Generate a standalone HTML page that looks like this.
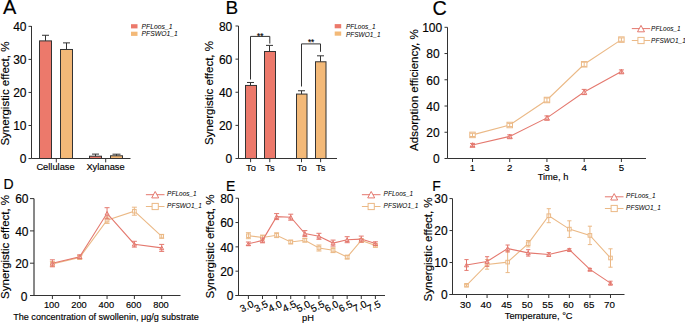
<!DOCTYPE html>
<html><head><meta charset="utf-8"><style>
html,body{margin:0;padding:0;background:#fff;}
svg{display:block;}
text{font-family:"Liberation Sans", sans-serif;fill:#000;stroke:#000;stroke-width:0.15px;}
</style></head><body>
<svg width="685" height="323" viewBox="0 0 685 323">
<rect width="685" height="323" fill="#fff"/>
<text x="3" y="14" font-size="20" text-anchor="start"  style="">A</text>
<line x1="31.5" y1="26" x2="31.5" y2="158.5" stroke="#333" stroke-width="1"/>
<line x1="28.5" y1="158.55" x2="31.5" y2="158.55" stroke="#333" stroke-width="1"/>
<text x="26.5" y="163.37" font-size="12" text-anchor="end"  style="">0</text>
<line x1="28.5" y1="125.5" x2="31.5" y2="125.5" stroke="#333" stroke-width="1"/>
<text x="26.5" y="130.32" font-size="12" text-anchor="end"  style="">10</text>
<line x1="28.5" y1="92.45" x2="31.5" y2="92.45" stroke="#333" stroke-width="1"/>
<text x="26.5" y="97.27" font-size="12" text-anchor="end"  style="">20</text>
<line x1="28.5" y1="59.400000000000006" x2="31.5" y2="59.400000000000006" stroke="#333" stroke-width="1"/>
<text x="26.5" y="64.22" font-size="12" text-anchor="end"  style="">30</text>
<line x1="28.5" y1="26.349999999999994" x2="31.5" y2="26.349999999999994" stroke="#333" stroke-width="1"/>
<text x="26.5" y="31.17" font-size="12" text-anchor="end"  style="">40</text>
<line x1="31.5" y1="158.5" x2="130.5" y2="158.5" stroke="#333" stroke-width="1"/>
<line x1="56.3" y1="158.5" x2="56.3" y2="162.4" stroke="#333" stroke-width="1"/>
<line x1="105.7" y1="158.5" x2="105.7" y2="162.4" stroke="#333" stroke-width="1"/>
<text x="55.5" y="169.8" font-size="9.3" text-anchor="middle"  style="">Cellulase</text>
<text x="105.5" y="169.8" font-size="9.3" text-anchor="middle"  style="">Xylanase</text>
<rect x="39.5" y="40.891999999999996" width="12.0" height="117.608" fill="#EC796B" stroke="#333" stroke-width="1"/>
<line x1="45.5" y1="40.891999999999996" x2="45.5" y2="35.27350000000001" stroke="#333" stroke-width="1"/>
<line x1="42.0" y1="35.27350000000001" x2="49.0" y2="35.27350000000001" stroke="#333" stroke-width="1"/>
<rect x="60.5" y="49.485" width="12.0" height="109.015" fill="#F3B978" stroke="#333" stroke-width="1"/>
<line x1="66.5" y1="49.485" x2="66.5" y2="42.875" stroke="#333" stroke-width="1"/>
<line x1="63.0" y1="42.875" x2="70.0" y2="42.875" stroke="#333" stroke-width="1"/>
<rect x="89.5" y="156.2" width="12.0" height="2.3000000000000114" fill="#EC796B" stroke="#333" stroke-width="1"/>
<line x1="95.5" y1="156.2" x2="95.5" y2="154.1" stroke="#333" stroke-width="1"/>
<line x1="92.0" y1="154.1" x2="99.0" y2="154.1" stroke="#333" stroke-width="1"/>
<rect x="110.5" y="155.8" width="12.0" height="2.6999999999999886" fill="#F3B978" stroke="#333" stroke-width="1"/>
<line x1="116.5" y1="155.8" x2="116.5" y2="154.2" stroke="#333" stroke-width="1"/>
<line x1="112.5" y1="154.2" x2="120.5" y2="154.2" stroke="#333" stroke-width="1"/>
<rect x="131" y="24.2" width="6.5" height="4.2" fill="#EC796B"/>
<rect x="131" y="31.7" width="6.5" height="4.2" fill="#F3B978"/>
<text x="141.5" y="28.9" font-size="6.8" text-anchor="start"  style="font-style:italic;stroke-width:0">PFLoos_1</text>
<text x="141.5" y="36.4" font-size="6.8" text-anchor="start"  style="font-style:italic;stroke-width:0">PFSWO1_1</text>
<text x="0" y="0" font-size="11.5" text-anchor="middle" transform="translate(9.2,93.6) rotate(-90)">Synergistic effect, %</text>
<text x="225.6" y="13.9" font-size="19" text-anchor="start"  style="">B</text>
<line x1="238.5" y1="26" x2="238.5" y2="158.5" stroke="#333" stroke-width="1"/>
<line x1="235.5" y1="158.5" x2="238.5" y2="158.5" stroke="#333" stroke-width="1"/>
<text x="232.3" y="163.32" font-size="12" text-anchor="end"  style="">0</text>
<line x1="235.5" y1="125.375" x2="238.5" y2="125.375" stroke="#333" stroke-width="1"/>
<text x="232.3" y="130.19" font-size="12" text-anchor="end"  style="">20</text>
<line x1="235.5" y1="92.25" x2="238.5" y2="92.25" stroke="#333" stroke-width="1"/>
<text x="232.3" y="97.07" font-size="12" text-anchor="end"  style="">40</text>
<line x1="235.5" y1="59.125" x2="238.5" y2="59.125" stroke="#333" stroke-width="1"/>
<text x="232.3" y="63.95" font-size="12" text-anchor="end"  style="">60</text>
<line x1="235.5" y1="26.0" x2="238.5" y2="26.0" stroke="#333" stroke-width="1"/>
<text x="232.3" y="30.82" font-size="12" text-anchor="end"  style="">80</text>
<line x1="238.5" y1="158.5" x2="337" y2="158.5" stroke="#333" stroke-width="1"/>
<line x1="250.6" y1="158.5" x2="250.6" y2="162.2" stroke="#333" stroke-width="1"/>
<line x1="269.8" y1="158.5" x2="269.8" y2="162.2" stroke="#333" stroke-width="1"/>
<line x1="301.5" y1="158.5" x2="301.5" y2="162.2" stroke="#333" stroke-width="1"/>
<line x1="320.6" y1="158.5" x2="320.6" y2="162.2" stroke="#333" stroke-width="1"/>
<text x="251" y="170.8" font-size="9.3" text-anchor="middle"  style="">To</text>
<text x="270" y="170.8" font-size="9.3" text-anchor="middle"  style="">Ts</text>
<text x="301.75" y="170.8" font-size="9.3" text-anchor="middle"  style="">To</text>
<text x="320.75" y="170.8" font-size="9.3" text-anchor="middle"  style="">Ts</text>
<rect x="245.5" y="85.459375" width="11.0" height="73.040625" fill="#EC796B" stroke="#333" stroke-width="1"/>
<line x1="250.5" y1="85.459375" x2="250.5" y2="82.478125" stroke="#333" stroke-width="1"/>
<line x1="247.0" y1="82.478125" x2="254.0" y2="82.478125" stroke="#333" stroke-width="1"/>
<rect x="264.5" y="51.50625000000001" width="11.0" height="106.99374999999999" fill="#EC796B" stroke="#333" stroke-width="1"/>
<line x1="269.5" y1="51.50625000000001" x2="269.5" y2="45.37812500000001" stroke="#333" stroke-width="1"/>
<line x1="266.0" y1="45.37812500000001" x2="273.0" y2="45.37812500000001" stroke="#333" stroke-width="1"/>
<rect x="296.5" y="94.071875" width="10.5" height="64.428125" fill="#F3B978" stroke="#333" stroke-width="1"/>
<line x1="301.5" y1="94.071875" x2="301.5" y2="90.759375" stroke="#333" stroke-width="1"/>
<line x1="298.0" y1="90.759375" x2="305.0" y2="90.759375" stroke="#333" stroke-width="1"/>
<rect x="315.5" y="61.775000000000006" width="10.5" height="96.725" fill="#F3B978" stroke="#333" stroke-width="1"/>
<line x1="320.5" y1="61.775000000000006" x2="320.5" y2="55.8125" stroke="#333" stroke-width="1"/>
<line x1="317.0" y1="55.8125" x2="324.0" y2="55.8125" stroke="#333" stroke-width="1"/>
<path d="M250.5,79.5 V36.4 H269.8 V43.6" fill="none" stroke="#333" stroke-width="1"/>
<path d="M301.5,86.5 V43.9 H320.5 V51.8" fill="none" stroke="#333" stroke-width="1"/>
<text x="260.3" y="38.6" font-size="8.2" text-anchor="middle"  style="">**</text>
<text x="311.1" y="45.4" font-size="8.2" text-anchor="middle"  style="">**</text>
<rect x="334.7" y="24.1" width="6.5" height="4.2" fill="#EC796B"/>
<rect x="334.7" y="31.5" width="6.5" height="4.2" fill="#F3B978"/>
<text x="345.9" y="28.9" font-size="6.5" text-anchor="start"  style="font-style:italic;stroke-width:0">PFLoos_1</text>
<text x="345.9" y="36.5" font-size="6.5" text-anchor="start"  style="font-style:italic;stroke-width:0">PFSWO1_1</text>
<text x="0" y="0" font-size="11.5" text-anchor="middle" transform="translate(213.2,93) rotate(-90)">Synergistic effect, %</text>
<text x="432.4" y="15.1" font-size="19.8" text-anchor="start"  style="">C</text>
<line x1="447.5" y1="27.3" x2="447.5" y2="158.5" stroke="#333" stroke-width="1"/>
<line x1="444.5" y1="158.5" x2="447.5" y2="158.5" stroke="#333" stroke-width="1"/>
<text x="439.6" y="163.32" font-size="12" text-anchor="end"  style="">0</text>
<line x1="444.5" y1="132.26" x2="447.5" y2="132.26" stroke="#333" stroke-width="1"/>
<text x="439.6" y="137.08" font-size="12" text-anchor="end"  style="">20</text>
<line x1="444.5" y1="106.02" x2="447.5" y2="106.02" stroke="#333" stroke-width="1"/>
<text x="439.6" y="110.84" font-size="12" text-anchor="end"  style="">40</text>
<line x1="444.5" y1="79.78" x2="447.5" y2="79.78" stroke="#333" stroke-width="1"/>
<text x="439.6" y="84.6" font-size="12" text-anchor="end"  style="">60</text>
<line x1="444.5" y1="53.53999999999999" x2="447.5" y2="53.53999999999999" stroke="#333" stroke-width="1"/>
<text x="439.6" y="58.36" font-size="12" text-anchor="end"  style="">80</text>
<line x1="447.5" y1="27.3" x2="447.5" y2="27.3" stroke="#333" stroke-width="1"/>
<line x1="444.5" y1="27.3" x2="447.5" y2="27.3" stroke="#333" stroke-width="1"/>
<text x="442.2" y="32.12" font-size="12" text-anchor="end"  style="">100</text>
<line x1="447.5" y1="158.5" x2="646" y2="158.5" stroke="#333" stroke-width="1"/>
<line x1="472.5" y1="158.5" x2="472.5" y2="162.0" stroke="#333" stroke-width="1"/>
<text x="472.5" y="171.0" font-size="9.7" text-anchor="middle"  style="">1</text>
<line x1="509.725" y1="158.5" x2="509.725" y2="162.0" stroke="#333" stroke-width="1"/>
<text x="509.725" y="171.0" font-size="9.7" text-anchor="middle"  style="">2</text>
<line x1="546.95" y1="158.5" x2="546.95" y2="162.0" stroke="#333" stroke-width="1"/>
<text x="546.95" y="171.0" font-size="9.7" text-anchor="middle"  style="">3</text>
<line x1="584.175" y1="158.5" x2="584.175" y2="162.0" stroke="#333" stroke-width="1"/>
<text x="584.175" y="171.0" font-size="9.7" text-anchor="middle"  style="">4</text>
<line x1="621.4" y1="158.5" x2="621.4" y2="162.0" stroke="#333" stroke-width="1"/>
<text x="621.4" y="171.0" font-size="9.7" text-anchor="middle"  style="">5</text>
<text x="553" y="180" font-size="9.3" text-anchor="middle"  style="">Time, h</text>
<polyline points="472.50,134.90 509.73,125.00 546.95,100.00 584.17,64.30 621.40,39.60" fill="none" stroke="#EBB986" stroke-width="1.1"/>
<rect x="469.75" y="132.15" width="5.5" height="5.5" fill="#fff" stroke="#EBB986" stroke-width="1"/>
<line x1="472.5" y1="133.3" x2="472.5" y2="136.5" stroke="#EBB986" stroke-width="1"/>
<line x1="470.0" y1="133.3" x2="475.0" y2="133.3" stroke="#EBB986" stroke-width="1"/>
<line x1="470.0" y1="136.5" x2="475.0" y2="136.5" stroke="#EBB986" stroke-width="1"/>
<rect x="506.975" y="122.25" width="5.5" height="5.5" fill="#fff" stroke="#EBB986" stroke-width="1"/>
<line x1="509.725" y1="123.4" x2="509.725" y2="126.6" stroke="#EBB986" stroke-width="1"/>
<line x1="507.225" y1="123.4" x2="512.225" y2="123.4" stroke="#EBB986" stroke-width="1"/>
<line x1="507.225" y1="126.6" x2="512.225" y2="126.6" stroke="#EBB986" stroke-width="1"/>
<rect x="544.2" y="97.25" width="5.5" height="5.5" fill="#fff" stroke="#EBB986" stroke-width="1"/>
<line x1="546.95" y1="98.0" x2="546.95" y2="102.0" stroke="#EBB986" stroke-width="1"/>
<line x1="544.45" y1="98.0" x2="549.45" y2="98.0" stroke="#EBB986" stroke-width="1"/>
<line x1="544.45" y1="102.0" x2="549.45" y2="102.0" stroke="#EBB986" stroke-width="1"/>
<rect x="581.425" y="61.55" width="5.5" height="5.5" fill="#fff" stroke="#EBB986" stroke-width="1"/>
<line x1="584.175" y1="62.199999999999996" x2="584.175" y2="66.39999999999999" stroke="#EBB986" stroke-width="1"/>
<line x1="581.675" y1="62.199999999999996" x2="586.675" y2="62.199999999999996" stroke="#EBB986" stroke-width="1"/>
<line x1="581.675" y1="66.39999999999999" x2="586.675" y2="66.39999999999999" stroke="#EBB986" stroke-width="1"/>
<rect x="618.65" y="36.85" width="5.5" height="5.5" fill="#fff" stroke="#EBB986" stroke-width="1"/>
<line x1="621.4" y1="37.9" x2="621.4" y2="41.300000000000004" stroke="#EBB986" stroke-width="1"/>
<line x1="618.9" y1="37.9" x2="623.9" y2="37.9" stroke="#EBB986" stroke-width="1"/>
<line x1="618.9" y1="41.300000000000004" x2="623.9" y2="41.300000000000004" stroke="#EBB986" stroke-width="1"/>
<polyline points="472.50,145.00 509.73,136.40 546.95,117.90 584.17,92.00 621.40,71.50" fill="none" stroke="#E4786E" stroke-width="1.1"/>
<path d="M472.50,142.70 L475.00,147.30 L470.00,147.30 Z" fill="#fff" stroke="#E4786E" stroke-width="1"/>
<line x1="472.5" y1="143.4" x2="472.5" y2="146.6" stroke="#E4786E" stroke-width="1"/>
<line x1="470.0" y1="143.4" x2="475.0" y2="143.4" stroke="#E4786E" stroke-width="1"/>
<line x1="470.0" y1="146.6" x2="475.0" y2="146.6" stroke="#E4786E" stroke-width="1"/>
<path d="M509.73,134.10 L512.23,138.70 L507.23,138.70 Z" fill="#fff" stroke="#E4786E" stroke-width="1"/>
<line x1="509.725" y1="134.8" x2="509.725" y2="138.0" stroke="#E4786E" stroke-width="1"/>
<line x1="507.225" y1="134.8" x2="512.225" y2="134.8" stroke="#E4786E" stroke-width="1"/>
<line x1="507.225" y1="138.0" x2="512.225" y2="138.0" stroke="#E4786E" stroke-width="1"/>
<path d="M546.95,115.60 L549.45,120.20 L544.45,120.20 Z" fill="#fff" stroke="#E4786E" stroke-width="1"/>
<line x1="546.95" y1="115.9" x2="546.95" y2="119.9" stroke="#E4786E" stroke-width="1"/>
<line x1="544.45" y1="115.9" x2="549.45" y2="115.9" stroke="#E4786E" stroke-width="1"/>
<line x1="544.45" y1="119.9" x2="549.45" y2="119.9" stroke="#E4786E" stroke-width="1"/>
<path d="M584.17,89.70 L586.67,94.30 L581.67,94.30 Z" fill="#fff" stroke="#E4786E" stroke-width="1"/>
<line x1="584.175" y1="89.4" x2="584.175" y2="94.6" stroke="#E4786E" stroke-width="1"/>
<line x1="581.675" y1="89.4" x2="586.675" y2="89.4" stroke="#E4786E" stroke-width="1"/>
<line x1="581.675" y1="94.6" x2="586.675" y2="94.6" stroke="#E4786E" stroke-width="1"/>
<path d="M621.40,69.20 L623.90,73.80 L618.90,73.80 Z" fill="#fff" stroke="#E4786E" stroke-width="1"/>
<line x1="621.4" y1="69.9" x2="621.4" y2="73.1" stroke="#E4786E" stroke-width="1"/>
<line x1="618.9" y1="69.9" x2="623.9" y2="69.9" stroke="#E4786E" stroke-width="1"/>
<line x1="618.9" y1="73.1" x2="623.9" y2="73.1" stroke="#E4786E" stroke-width="1"/>
<line x1="631.8" y1="28.6" x2="650.2" y2="28.6" stroke="#E4786E" stroke-width="1"/>
<path d="M641.00,25.38 L644.50,31.82 L637.50,31.82 Z" fill="#fff" stroke="#E4786E" stroke-width="1"/>
<line x1="631.8" y1="40.5" x2="650.2" y2="40.5" stroke="#EBB986" stroke-width="1"/>
<rect x="637.9" y="37.4" width="6.2" height="6.2" fill="#fff" stroke="#EBB986" stroke-width="1"/>
<text x="651.1" y="31.3" font-size="6.5" text-anchor="start"  style="font-style:italic;stroke-width:0">PFLoos_1</text>
<text x="651.1" y="43.3" font-size="6.5" text-anchor="start"  style="font-style:italic;stroke-width:0">PFSWO1_1</text>
<text x="0" y="0" font-size="11.5" text-anchor="middle" transform="translate(418.3,90.1) rotate(-90)">Adsorption efficiency, %</text>
<text x="3.5" y="188.7" font-size="14" text-anchor="start"  style="">D</text>
<line x1="34.0" y1="198.6" x2="34.0" y2="295.5" stroke="#111" stroke-width="1"/>
<line x1="30.0" y1="263.2" x2="34.0" y2="263.2" stroke="#333" stroke-width="1"/>
<text x="28.5" y="268.02" font-size="12" text-anchor="end"  style="">20</text>
<line x1="30.0" y1="230.9" x2="34.0" y2="230.9" stroke="#333" stroke-width="1"/>
<text x="28.5" y="235.72" font-size="12" text-anchor="end"  style="">40</text>
<line x1="30.0" y1="198.6" x2="34.0" y2="198.6" stroke="#333" stroke-width="1"/>
<text x="28.5" y="203.42" font-size="12" text-anchor="end"  style="">60</text>
<text x="27.4" y="301.0" font-size="12" text-anchor="end"  style="">0</text>
<line x1="30.0" y1="295.5" x2="180.5" y2="295.5" stroke="#333" stroke-width="1"/>
<line x1="52.4" y1="295.5" x2="52.4" y2="299.0" stroke="#333" stroke-width="1"/>
<line x1="79.725" y1="295.5" x2="79.725" y2="299.0" stroke="#333" stroke-width="1"/>
<line x1="107.05" y1="295.5" x2="107.05" y2="299.0" stroke="#333" stroke-width="1"/>
<line x1="134.375" y1="295.5" x2="134.375" y2="299.0" stroke="#333" stroke-width="1"/>
<line x1="161.7" y1="295.5" x2="161.7" y2="299.0" stroke="#333" stroke-width="1"/>
<text x="51.7" y="308.3" font-size="9.3" text-anchor="middle"  style="">100</text>
<text x="79.02" y="308.3" font-size="9.3" text-anchor="middle"  style="">200</text>
<text x="106.35" y="308.3" font-size="9.3" text-anchor="middle"  style="">400</text>
<text x="133.68" y="308.3" font-size="9.3" text-anchor="middle"  style="">600</text>
<text x="161.0" y="308.3" font-size="9.3" text-anchor="middle"  style="">800</text>
<text x="106" y="320" font-size="9.1" text-anchor="middle"  style="">The concentration of swollenin, μg/g substrate</text>
<polyline points="52.40,264.00 79.72,257.40 107.05,220.20 134.38,211.20 161.70,236.30" fill="none" stroke="#EBB986" stroke-width="1.1"/>
<rect x="50.6" y="262.2" width="3.6" height="3.6" fill="#fff" stroke="#EBB986" stroke-width="1"/>
<line x1="52.4" y1="261.6" x2="52.4" y2="266.4" stroke="#EBB986" stroke-width="1"/>
<line x1="49.9" y1="261.6" x2="54.9" y2="261.6" stroke="#EBB986" stroke-width="1"/>
<line x1="49.9" y1="266.4" x2="54.9" y2="266.4" stroke="#EBB986" stroke-width="1"/>
<rect x="77.925" y="255.59999999999997" width="3.6" height="3.6" fill="#fff" stroke="#EBB986" stroke-width="1"/>
<line x1="79.725" y1="255.49999999999997" x2="79.725" y2="259.29999999999995" stroke="#EBB986" stroke-width="1"/>
<line x1="77.225" y1="255.49999999999997" x2="82.225" y2="255.49999999999997" stroke="#EBB986" stroke-width="1"/>
<line x1="77.225" y1="259.29999999999995" x2="82.225" y2="259.29999999999995" stroke="#EBB986" stroke-width="1"/>
<rect x="105.25" y="218.39999999999998" width="3.6" height="3.6" fill="#fff" stroke="#EBB986" stroke-width="1"/>
<line x1="107.05" y1="217.0" x2="107.05" y2="223.39999999999998" stroke="#EBB986" stroke-width="1"/>
<line x1="104.55" y1="217.0" x2="109.55" y2="217.0" stroke="#EBB986" stroke-width="1"/>
<line x1="104.55" y1="223.39999999999998" x2="109.55" y2="223.39999999999998" stroke="#EBB986" stroke-width="1"/>
<rect x="132.575" y="209.39999999999998" width="3.6" height="3.6" fill="#fff" stroke="#EBB986" stroke-width="1"/>
<line x1="134.375" y1="207.2" x2="134.375" y2="215.2" stroke="#EBB986" stroke-width="1"/>
<line x1="131.875" y1="207.2" x2="136.875" y2="207.2" stroke="#EBB986" stroke-width="1"/>
<line x1="131.875" y1="215.2" x2="136.875" y2="215.2" stroke="#EBB986" stroke-width="1"/>
<rect x="159.89999999999998" y="234.5" width="3.6" height="3.6" fill="#fff" stroke="#EBB986" stroke-width="1"/>
<line x1="161.7" y1="234.4" x2="161.7" y2="238.20000000000002" stroke="#EBB986" stroke-width="1"/>
<line x1="159.2" y1="234.4" x2="164.2" y2="234.4" stroke="#EBB986" stroke-width="1"/>
<line x1="159.2" y1="238.20000000000002" x2="164.2" y2="238.20000000000002" stroke="#EBB986" stroke-width="1"/>
<polyline points="52.40,263.30 79.72,256.70 107.05,213.30 134.38,244.20 161.70,247.90" fill="none" stroke="#E4786E" stroke-width="1.1"/>
<path d="M52.40,261.46 L54.40,265.14 L50.40,265.14 Z" fill="#fff" stroke="#E4786E" stroke-width="1"/>
<line x1="52.4" y1="259.8" x2="52.4" y2="266.8" stroke="#E4786E" stroke-width="1"/>
<line x1="49.9" y1="259.8" x2="54.9" y2="259.8" stroke="#E4786E" stroke-width="1"/>
<line x1="49.9" y1="266.8" x2="54.9" y2="266.8" stroke="#E4786E" stroke-width="1"/>
<path d="M79.72,254.86 L81.72,258.54 L77.72,258.54 Z" fill="#fff" stroke="#E4786E" stroke-width="1"/>
<line x1="79.725" y1="254.79999999999998" x2="79.725" y2="258.59999999999997" stroke="#E4786E" stroke-width="1"/>
<line x1="77.225" y1="254.79999999999998" x2="82.225" y2="254.79999999999998" stroke="#E4786E" stroke-width="1"/>
<line x1="77.225" y1="258.59999999999997" x2="82.225" y2="258.59999999999997" stroke="#E4786E" stroke-width="1"/>
<path d="M107.05,211.46 L109.05,215.14 L105.05,215.14 Z" fill="#fff" stroke="#E4786E" stroke-width="1"/>
<line x1="107.05" y1="207.70000000000002" x2="107.05" y2="218.9" stroke="#E4786E" stroke-width="1"/>
<line x1="104.55" y1="207.70000000000002" x2="109.55" y2="207.70000000000002" stroke="#E4786E" stroke-width="1"/>
<line x1="104.55" y1="218.9" x2="109.55" y2="218.9" stroke="#E4786E" stroke-width="1"/>
<path d="M134.38,242.36 L136.38,246.04 L132.38,246.04 Z" fill="#fff" stroke="#E4786E" stroke-width="1"/>
<line x1="134.375" y1="241.29999999999998" x2="134.375" y2="247.1" stroke="#E4786E" stroke-width="1"/>
<line x1="131.875" y1="241.29999999999998" x2="136.875" y2="241.29999999999998" stroke="#E4786E" stroke-width="1"/>
<line x1="131.875" y1="247.1" x2="136.875" y2="247.1" stroke="#E4786E" stroke-width="1"/>
<path d="M161.70,246.06 L163.70,249.74 L159.70,249.74 Z" fill="#fff" stroke="#E4786E" stroke-width="1"/>
<line x1="161.7" y1="244.4" x2="161.7" y2="251.4" stroke="#E4786E" stroke-width="1"/>
<line x1="159.2" y1="244.4" x2="164.2" y2="244.4" stroke="#E4786E" stroke-width="1"/>
<line x1="159.2" y1="251.4" x2="164.2" y2="251.4" stroke="#E4786E" stroke-width="1"/>
<line x1="145.9" y1="194.7" x2="164.5" y2="194.7" stroke="#E4786E" stroke-width="1"/>
<path d="M155.20,191.48 L158.70,197.92 L151.70,197.92 Z" fill="#fff" stroke="#E4786E" stroke-width="1"/>
<line x1="145.9" y1="206.5" x2="164.5" y2="206.5" stroke="#EBB986" stroke-width="1"/>
<rect x="152.1" y="203.4" width="6.2" height="6.2" fill="#fff" stroke="#EBB986" stroke-width="1"/>
<text x="167.1" y="196.0" font-size="6.5" text-anchor="start"  style="font-style:italic;stroke-width:0">PFLoos_1</text>
<text x="167.1" y="207.7" font-size="6.5" text-anchor="start"  style="font-style:italic;stroke-width:0">PFSWO1_1</text>
<text x="0" y="0" font-size="11.5" text-anchor="middle" transform="translate(9.1,246.9) rotate(-90)">Synergistic effect, %</text>
<text x="226.0" y="190.8" font-size="14" text-anchor="start"  style="">E</text>
<line x1="238.5" y1="198.2" x2="238.5" y2="295.5" stroke="#333" stroke-width="1"/>
<line x1="235.5" y1="295.5" x2="238.5" y2="295.5" stroke="#333" stroke-width="1"/>
<text x="233.5" y="300.32" font-size="12" text-anchor="end"  style="">0</text>
<line x1="235.5" y1="271.18" x2="238.5" y2="271.18" stroke="#333" stroke-width="1"/>
<text x="233.5" y="276.0" font-size="12" text-anchor="end"  style="">20</text>
<line x1="235.5" y1="246.86" x2="238.5" y2="246.86" stroke="#333" stroke-width="1"/>
<text x="233.5" y="251.68" font-size="12" text-anchor="end"  style="">40</text>
<line x1="235.5" y1="222.54000000000002" x2="238.5" y2="222.54000000000002" stroke="#333" stroke-width="1"/>
<text x="233.5" y="227.36" font-size="12" text-anchor="end"  style="">60</text>
<line x1="235.5" y1="198.22" x2="238.5" y2="198.22" stroke="#333" stroke-width="1"/>
<text x="233.5" y="203.04" font-size="12" text-anchor="end"  style="">80</text>
<line x1="235.5" y1="295.5" x2="385" y2="295.5" stroke="#333" stroke-width="1"/>
<line x1="248.4" y1="295.5" x2="248.4" y2="299.0" stroke="#333" stroke-width="1"/>
<line x1="262.51" y1="295.5" x2="262.51" y2="299.0" stroke="#333" stroke-width="1"/>
<line x1="276.62" y1="295.5" x2="276.62" y2="299.0" stroke="#333" stroke-width="1"/>
<line x1="290.73" y1="295.5" x2="290.73" y2="299.0" stroke="#333" stroke-width="1"/>
<line x1="304.84000000000003" y1="295.5" x2="304.84000000000003" y2="299.0" stroke="#333" stroke-width="1"/>
<line x1="318.95" y1="295.5" x2="318.95" y2="299.0" stroke="#333" stroke-width="1"/>
<line x1="333.06" y1="295.5" x2="333.06" y2="299.0" stroke="#333" stroke-width="1"/>
<line x1="347.17" y1="295.5" x2="347.17" y2="299.0" stroke="#333" stroke-width="1"/>
<line x1="361.28" y1="295.5" x2="361.28" y2="299.0" stroke="#333" stroke-width="1"/>
<line x1="375.39" y1="295.5" x2="375.39" y2="299.0" stroke="#333" stroke-width="1"/>
<text x="0" y="0" font-size="10" text-anchor="middle" dominant-baseline="central" transform="translate(246.80,306.3) rotate(-26)">3.0</text>
<text x="0" y="0" font-size="10" text-anchor="middle" dominant-baseline="central" transform="translate(260.91,306.3) rotate(-26)">3.5</text>
<text x="0" y="0" font-size="10" text-anchor="middle" dominant-baseline="central" transform="translate(275.02,306.3) rotate(-26)">4.0</text>
<text x="0" y="0" font-size="10" text-anchor="middle" dominant-baseline="central" transform="translate(289.13,306.3) rotate(-26)">4.5</text>
<text x="0" y="0" font-size="10" text-anchor="middle" dominant-baseline="central" transform="translate(303.24,306.3) rotate(-26)">5.0</text>
<text x="0" y="0" font-size="10" text-anchor="middle" dominant-baseline="central" transform="translate(317.35,306.3) rotate(-26)">5.5</text>
<text x="0" y="0" font-size="10" text-anchor="middle" dominant-baseline="central" transform="translate(331.46,306.3) rotate(-26)">6.0</text>
<text x="0" y="0" font-size="10" text-anchor="middle" dominant-baseline="central" transform="translate(345.57,306.3) rotate(-26)">6.5</text>
<text x="0" y="0" font-size="10" text-anchor="middle" dominant-baseline="central" transform="translate(359.68,306.3) rotate(-26)">7.0</text>
<text x="0" y="0" font-size="10" text-anchor="middle" dominant-baseline="central" transform="translate(373.79,306.3) rotate(-26)">7.5</text>
<text x="308" y="320.9" font-size="9.3" text-anchor="middle"  style="">pH</text>
<polyline points="248.40,235.70 262.51,237.50 276.62,235.20 290.73,242.00 304.84,240.20 318.95,248.00 333.06,250.20 347.17,257.10 361.28,240.40 375.39,245.40" fill="none" stroke="#EBB986" stroke-width="1.1"/>
<rect x="246.6" y="233.89999999999998" width="3.6" height="3.6" fill="#fff" stroke="#EBB986" stroke-width="1"/>
<line x1="248.4" y1="232.7" x2="248.4" y2="238.7" stroke="#EBB986" stroke-width="1"/>
<line x1="245.9" y1="232.7" x2="250.9" y2="232.7" stroke="#EBB986" stroke-width="1"/>
<line x1="245.9" y1="238.7" x2="250.9" y2="238.7" stroke="#EBB986" stroke-width="1"/>
<rect x="260.71" y="235.7" width="3.6" height="3.6" fill="#fff" stroke="#EBB986" stroke-width="1"/>
<line x1="262.51" y1="235.1" x2="262.51" y2="239.9" stroke="#EBB986" stroke-width="1"/>
<line x1="260.01" y1="235.1" x2="265.01" y2="235.1" stroke="#EBB986" stroke-width="1"/>
<line x1="260.01" y1="239.9" x2="265.01" y2="239.9" stroke="#EBB986" stroke-width="1"/>
<rect x="274.82" y="233.39999999999998" width="3.6" height="3.6" fill="#fff" stroke="#EBB986" stroke-width="1"/>
<line x1="276.62" y1="232.79999999999998" x2="276.62" y2="237.6" stroke="#EBB986" stroke-width="1"/>
<line x1="274.12" y1="232.79999999999998" x2="279.12" y2="232.79999999999998" stroke="#EBB986" stroke-width="1"/>
<line x1="274.12" y1="237.6" x2="279.12" y2="237.6" stroke="#EBB986" stroke-width="1"/>
<rect x="288.93" y="240.2" width="3.6" height="3.6" fill="#fff" stroke="#EBB986" stroke-width="1"/>
<line x1="290.73" y1="240.2" x2="290.73" y2="243.8" stroke="#EBB986" stroke-width="1"/>
<line x1="288.23" y1="240.2" x2="293.23" y2="240.2" stroke="#EBB986" stroke-width="1"/>
<line x1="288.23" y1="243.8" x2="293.23" y2="243.8" stroke="#EBB986" stroke-width="1"/>
<rect x="303.04" y="238.39999999999998" width="3.6" height="3.6" fill="#fff" stroke="#EBB986" stroke-width="1"/>
<line x1="304.84000000000003" y1="238.39999999999998" x2="304.84000000000003" y2="242.0" stroke="#EBB986" stroke-width="1"/>
<line x1="302.34000000000003" y1="238.39999999999998" x2="307.34000000000003" y2="238.39999999999998" stroke="#EBB986" stroke-width="1"/>
<line x1="302.34000000000003" y1="242.0" x2="307.34000000000003" y2="242.0" stroke="#EBB986" stroke-width="1"/>
<rect x="317.15" y="246.2" width="3.6" height="3.6" fill="#fff" stroke="#EBB986" stroke-width="1"/>
<line x1="318.95" y1="245.0" x2="318.95" y2="251.0" stroke="#EBB986" stroke-width="1"/>
<line x1="316.45" y1="245.0" x2="321.45" y2="245.0" stroke="#EBB986" stroke-width="1"/>
<line x1="316.45" y1="251.0" x2="321.45" y2="251.0" stroke="#EBB986" stroke-width="1"/>
<rect x="331.26" y="248.39999999999998" width="3.6" height="3.6" fill="#fff" stroke="#EBB986" stroke-width="1"/>
<line x1="333.06" y1="247.79999999999998" x2="333.06" y2="252.6" stroke="#EBB986" stroke-width="1"/>
<line x1="330.56" y1="247.79999999999998" x2="335.56" y2="247.79999999999998" stroke="#EBB986" stroke-width="1"/>
<line x1="330.56" y1="252.6" x2="335.56" y2="252.6" stroke="#EBB986" stroke-width="1"/>
<rect x="345.37" y="255.3" width="3.6" height="3.6" fill="#fff" stroke="#EBB986" stroke-width="1"/>
<line x1="347.17" y1="255.3" x2="347.17" y2="258.90000000000003" stroke="#EBB986" stroke-width="1"/>
<line x1="344.67" y1="255.3" x2="349.67" y2="255.3" stroke="#EBB986" stroke-width="1"/>
<line x1="344.67" y1="258.90000000000003" x2="349.67" y2="258.90000000000003" stroke="#EBB986" stroke-width="1"/>
<rect x="359.47999999999996" y="238.6" width="3.6" height="3.6" fill="#fff" stroke="#EBB986" stroke-width="1"/>
<line x1="361.28" y1="238.6" x2="361.28" y2="242.20000000000002" stroke="#EBB986" stroke-width="1"/>
<line x1="358.78" y1="238.6" x2="363.78" y2="238.6" stroke="#EBB986" stroke-width="1"/>
<line x1="358.78" y1="242.20000000000002" x2="363.78" y2="242.20000000000002" stroke="#EBB986" stroke-width="1"/>
<rect x="373.59" y="243.6" width="3.6" height="3.6" fill="#fff" stroke="#EBB986" stroke-width="1"/>
<line x1="375.39" y1="243.6" x2="375.39" y2="247.20000000000002" stroke="#EBB986" stroke-width="1"/>
<line x1="372.89" y1="243.6" x2="377.89" y2="243.6" stroke="#EBB986" stroke-width="1"/>
<line x1="372.89" y1="247.20000000000002" x2="377.89" y2="247.20000000000002" stroke="#EBB986" stroke-width="1"/>
<polyline points="248.40,243.80 262.51,240.40 276.62,216.60 290.73,217.20 304.84,233.60 318.95,236.30 333.06,243.10 347.17,239.70 361.28,239.10 375.39,243.60" fill="none" stroke="#E4786E" stroke-width="1.1"/>
<path d="M248.40,241.96 L250.40,245.64 L246.40,245.64 Z" fill="#fff" stroke="#E4786E" stroke-width="1"/>
<line x1="248.4" y1="242.0" x2="248.4" y2="245.60000000000002" stroke="#E4786E" stroke-width="1"/>
<line x1="245.9" y1="242.0" x2="250.9" y2="242.0" stroke="#E4786E" stroke-width="1"/>
<line x1="245.9" y1="245.60000000000002" x2="250.9" y2="245.60000000000002" stroke="#E4786E" stroke-width="1"/>
<path d="M262.51,238.56 L264.51,242.24 L260.51,242.24 Z" fill="#fff" stroke="#E4786E" stroke-width="1"/>
<line x1="262.51" y1="238.0" x2="262.51" y2="242.8" stroke="#E4786E" stroke-width="1"/>
<line x1="260.01" y1="238.0" x2="265.01" y2="238.0" stroke="#E4786E" stroke-width="1"/>
<line x1="260.01" y1="242.8" x2="265.01" y2="242.8" stroke="#E4786E" stroke-width="1"/>
<path d="M276.62,214.76 L278.62,218.44 L274.62,218.44 Z" fill="#fff" stroke="#E4786E" stroke-width="1"/>
<line x1="276.62" y1="213.6" x2="276.62" y2="219.6" stroke="#E4786E" stroke-width="1"/>
<line x1="274.12" y1="213.6" x2="279.12" y2="213.6" stroke="#E4786E" stroke-width="1"/>
<line x1="274.12" y1="219.6" x2="279.12" y2="219.6" stroke="#E4786E" stroke-width="1"/>
<path d="M290.73,215.36 L292.73,219.04 L288.73,219.04 Z" fill="#fff" stroke="#E4786E" stroke-width="1"/>
<line x1="290.73" y1="214.2" x2="290.73" y2="220.2" stroke="#E4786E" stroke-width="1"/>
<line x1="288.23" y1="214.2" x2="293.23" y2="214.2" stroke="#E4786E" stroke-width="1"/>
<line x1="288.23" y1="220.2" x2="293.23" y2="220.2" stroke="#E4786E" stroke-width="1"/>
<path d="M304.84,231.76 L306.84,235.44 L302.84,235.44 Z" fill="#fff" stroke="#E4786E" stroke-width="1"/>
<line x1="304.84000000000003" y1="230.6" x2="304.84000000000003" y2="236.6" stroke="#E4786E" stroke-width="1"/>
<line x1="302.34000000000003" y1="230.6" x2="307.34000000000003" y2="230.6" stroke="#E4786E" stroke-width="1"/>
<line x1="302.34000000000003" y1="236.6" x2="307.34000000000003" y2="236.6" stroke="#E4786E" stroke-width="1"/>
<path d="M318.95,234.46 L320.95,238.14 L316.95,238.14 Z" fill="#fff" stroke="#E4786E" stroke-width="1"/>
<line x1="318.95" y1="233.3" x2="318.95" y2="239.3" stroke="#E4786E" stroke-width="1"/>
<line x1="316.45" y1="233.3" x2="321.45" y2="233.3" stroke="#E4786E" stroke-width="1"/>
<line x1="316.45" y1="239.3" x2="321.45" y2="239.3" stroke="#E4786E" stroke-width="1"/>
<path d="M333.06,241.26 L335.06,244.94 L331.06,244.94 Z" fill="#fff" stroke="#E4786E" stroke-width="1"/>
<line x1="333.06" y1="240.1" x2="333.06" y2="246.1" stroke="#E4786E" stroke-width="1"/>
<line x1="330.56" y1="240.1" x2="335.56" y2="240.1" stroke="#E4786E" stroke-width="1"/>
<line x1="330.56" y1="246.1" x2="335.56" y2="246.1" stroke="#E4786E" stroke-width="1"/>
<path d="M347.17,237.86 L349.17,241.54 L345.17,241.54 Z" fill="#fff" stroke="#E4786E" stroke-width="1"/>
<line x1="347.17" y1="236.7" x2="347.17" y2="242.7" stroke="#E4786E" stroke-width="1"/>
<line x1="344.67" y1="236.7" x2="349.67" y2="236.7" stroke="#E4786E" stroke-width="1"/>
<line x1="344.67" y1="242.7" x2="349.67" y2="242.7" stroke="#E4786E" stroke-width="1"/>
<path d="M361.28,237.26 L363.28,240.94 L359.28,240.94 Z" fill="#fff" stroke="#E4786E" stroke-width="1"/>
<line x1="361.28" y1="236.1" x2="361.28" y2="242.1" stroke="#E4786E" stroke-width="1"/>
<line x1="358.78" y1="236.1" x2="363.78" y2="236.1" stroke="#E4786E" stroke-width="1"/>
<line x1="358.78" y1="242.1" x2="363.78" y2="242.1" stroke="#E4786E" stroke-width="1"/>
<path d="M375.39,241.76 L377.39,245.44 L373.39,245.44 Z" fill="#fff" stroke="#E4786E" stroke-width="1"/>
<line x1="375.39" y1="241.79999999999998" x2="375.39" y2="245.4" stroke="#E4786E" stroke-width="1"/>
<line x1="372.89" y1="241.79999999999998" x2="377.89" y2="241.79999999999998" stroke="#E4786E" stroke-width="1"/>
<line x1="372.89" y1="245.4" x2="377.89" y2="245.4" stroke="#E4786E" stroke-width="1"/>
<line x1="361.9" y1="194.7" x2="380.5" y2="194.7" stroke="#E4786E" stroke-width="1"/>
<path d="M371.20,191.48 L374.70,197.92 L367.70,197.92 Z" fill="#fff" stroke="#E4786E" stroke-width="1"/>
<line x1="361.9" y1="206.5" x2="380.5" y2="206.5" stroke="#EBB986" stroke-width="1"/>
<rect x="368.09999999999997" y="203.4" width="6.2" height="6.2" fill="#fff" stroke="#EBB986" stroke-width="1"/>
<text x="383.6" y="196.0" font-size="6.5" text-anchor="start"  style="font-style:italic;stroke-width:0">PFLoos_1</text>
<text x="383.6" y="207.7" font-size="6.5" text-anchor="start"  style="font-style:italic;stroke-width:0">PFSWO1_1</text>
<text x="0" y="0" font-size="11.5" text-anchor="middle" transform="translate(213.6,246.5) rotate(-90)">Synergistic effect, %</text>
<text x="432.3" y="191.0" font-size="14" text-anchor="start"  style="">F</text>
<line x1="452.5" y1="198.6" x2="452.5" y2="294.5" stroke="#333" stroke-width="1"/>
<line x1="449.5" y1="294.5" x2="452.5" y2="294.5" stroke="#333" stroke-width="1"/>
<text x="447.7" y="299.32" font-size="12" text-anchor="end"  style="">0</text>
<line x1="449.5" y1="262.53" x2="452.5" y2="262.53" stroke="#333" stroke-width="1"/>
<text x="447.7" y="267.35" font-size="12" text-anchor="end"  style="">10</text>
<line x1="449.5" y1="230.56" x2="452.5" y2="230.56" stroke="#333" stroke-width="1"/>
<text x="447.7" y="235.38" font-size="12" text-anchor="end"  style="">20</text>
<line x1="449.5" y1="198.59" x2="452.5" y2="198.59" stroke="#333" stroke-width="1"/>
<text x="447.7" y="203.41" font-size="12" text-anchor="end"  style="">30</text>
<line x1="449.5" y1="294.5" x2="624.5" y2="294.5" stroke="#333" stroke-width="1"/>
<line x1="466.5" y1="294.5" x2="466.5" y2="298.0" stroke="#333" stroke-width="1"/>
<line x1="487.071" y1="294.5" x2="487.071" y2="298.0" stroke="#333" stroke-width="1"/>
<line x1="507.642" y1="294.5" x2="507.642" y2="298.0" stroke="#333" stroke-width="1"/>
<line x1="528.213" y1="294.5" x2="528.213" y2="298.0" stroke="#333" stroke-width="1"/>
<line x1="548.784" y1="294.5" x2="548.784" y2="298.0" stroke="#333" stroke-width="1"/>
<line x1="569.355" y1="294.5" x2="569.355" y2="298.0" stroke="#333" stroke-width="1"/>
<line x1="589.926" y1="294.5" x2="589.926" y2="298.0" stroke="#333" stroke-width="1"/>
<line x1="610.4970000000001" y1="294.5" x2="610.4970000000001" y2="298.0" stroke="#333" stroke-width="1"/>
<text x="465.5" y="308.4" font-size="9.8" text-anchor="middle"  style="">30</text>
<text x="486.07" y="308.4" font-size="9.8" text-anchor="middle"  style="">40</text>
<text x="506.64" y="308.4" font-size="9.8" text-anchor="middle"  style="">45</text>
<text x="527.21" y="308.4" font-size="9.8" text-anchor="middle"  style="">50</text>
<text x="547.78" y="308.4" font-size="9.8" text-anchor="middle"  style="">55</text>
<text x="568.36" y="308.4" font-size="9.8" text-anchor="middle"  style="">60</text>
<text x="588.93" y="308.4" font-size="9.8" text-anchor="middle"  style="">65</text>
<text x="609.5" y="308.4" font-size="9.8" text-anchor="middle"  style="">70</text>
<text x="538.7" y="318.8" font-size="9.3" text-anchor="middle"  style="">Temperature, °C</text>
<polyline points="466.50,285.30 487.07,264.40 507.64,262.10 528.21,243.70 548.78,215.70 569.36,229.10 589.93,235.40 610.50,258.00" fill="none" stroke="#EBB986" stroke-width="1.1"/>
<rect x="464.7" y="283.5" width="3.6" height="3.6" fill="#fff" stroke="#EBB986" stroke-width="1"/>
<line x1="466.5" y1="284.3" x2="466.5" y2="286.3" stroke="#EBB986" stroke-width="1"/>
<line x1="464.4" y1="284.3" x2="468.6" y2="284.3" stroke="#EBB986" stroke-width="1"/>
<line x1="464.4" y1="286.3" x2="468.6" y2="286.3" stroke="#EBB986" stroke-width="1"/>
<rect x="485.271" y="262.59999999999997" width="3.6" height="3.6" fill="#fff" stroke="#EBB986" stroke-width="1"/>
<line x1="487.071" y1="259.59999999999997" x2="487.071" y2="269.2" stroke="#EBB986" stroke-width="1"/>
<line x1="484.971" y1="259.59999999999997" x2="489.17100000000005" y2="259.59999999999997" stroke="#EBB986" stroke-width="1"/>
<line x1="484.971" y1="269.2" x2="489.17100000000005" y2="269.2" stroke="#EBB986" stroke-width="1"/>
<rect x="505.842" y="260.3" width="3.6" height="3.6" fill="#fff" stroke="#EBB986" stroke-width="1"/>
<line x1="507.642" y1="251.60000000000002" x2="507.642" y2="272.6" stroke="#EBB986" stroke-width="1"/>
<line x1="505.542" y1="251.60000000000002" x2="509.742" y2="251.60000000000002" stroke="#EBB986" stroke-width="1"/>
<line x1="505.542" y1="272.6" x2="509.742" y2="272.6" stroke="#EBB986" stroke-width="1"/>
<rect x="526.413" y="241.89999999999998" width="3.6" height="3.6" fill="#fff" stroke="#EBB986" stroke-width="1"/>
<line x1="528.213" y1="240.5" x2="528.213" y2="246.89999999999998" stroke="#EBB986" stroke-width="1"/>
<line x1="526.1129999999999" y1="240.5" x2="530.313" y2="240.5" stroke="#EBB986" stroke-width="1"/>
<line x1="526.1129999999999" y1="246.89999999999998" x2="530.313" y2="246.89999999999998" stroke="#EBB986" stroke-width="1"/>
<rect x="546.984" y="213.89999999999998" width="3.6" height="3.6" fill="#fff" stroke="#EBB986" stroke-width="1"/>
<line x1="548.784" y1="208.7" x2="548.784" y2="222.7" stroke="#EBB986" stroke-width="1"/>
<line x1="546.684" y1="208.7" x2="550.884" y2="208.7" stroke="#EBB986" stroke-width="1"/>
<line x1="546.684" y1="222.7" x2="550.884" y2="222.7" stroke="#EBB986" stroke-width="1"/>
<rect x="567.5550000000001" y="227.29999999999998" width="3.6" height="3.6" fill="#fff" stroke="#EBB986" stroke-width="1"/>
<line x1="569.355" y1="220.79999999999998" x2="569.355" y2="237.4" stroke="#EBB986" stroke-width="1"/>
<line x1="567.255" y1="220.79999999999998" x2="571.455" y2="220.79999999999998" stroke="#EBB986" stroke-width="1"/>
<line x1="567.255" y1="237.4" x2="571.455" y2="237.4" stroke="#EBB986" stroke-width="1"/>
<rect x="588.1260000000001" y="233.6" width="3.6" height="3.6" fill="#fff" stroke="#EBB986" stroke-width="1"/>
<line x1="589.926" y1="226.20000000000002" x2="589.926" y2="244.6" stroke="#EBB986" stroke-width="1"/>
<line x1="587.826" y1="226.20000000000002" x2="592.0260000000001" y2="226.20000000000002" stroke="#EBB986" stroke-width="1"/>
<line x1="587.826" y1="244.6" x2="592.0260000000001" y2="244.6" stroke="#EBB986" stroke-width="1"/>
<rect x="608.6970000000001" y="256.2" width="3.6" height="3.6" fill="#fff" stroke="#EBB986" stroke-width="1"/>
<line x1="610.4970000000001" y1="248.8" x2="610.4970000000001" y2="267.2" stroke="#EBB986" stroke-width="1"/>
<line x1="608.397" y1="248.8" x2="612.5970000000001" y2="248.8" stroke="#EBB986" stroke-width="1"/>
<line x1="608.397" y1="267.2" x2="612.5970000000001" y2="267.2" stroke="#EBB986" stroke-width="1"/>
<polyline points="466.50,265.00 487.07,261.50 507.64,248.50 528.21,252.90 548.78,254.50 569.36,249.70 589.93,269.40 610.50,283.10" fill="none" stroke="#E4786E" stroke-width="1.1"/>
<path d="M466.50,263.16 L468.50,266.84 L464.50,266.84 Z" fill="#fff" stroke="#E4786E" stroke-width="1"/>
<line x1="466.5" y1="259.6" x2="466.5" y2="270.4" stroke="#E4786E" stroke-width="1"/>
<line x1="464.4" y1="259.6" x2="468.6" y2="259.6" stroke="#E4786E" stroke-width="1"/>
<line x1="464.4" y1="270.4" x2="468.6" y2="270.4" stroke="#E4786E" stroke-width="1"/>
<path d="M487.07,259.66 L489.07,263.34 L485.07,263.34 Z" fill="#fff" stroke="#E4786E" stroke-width="1"/>
<line x1="487.071" y1="256.7" x2="487.071" y2="266.3" stroke="#E4786E" stroke-width="1"/>
<line x1="484.971" y1="256.7" x2="489.17100000000005" y2="256.7" stroke="#E4786E" stroke-width="1"/>
<line x1="484.971" y1="266.3" x2="489.17100000000005" y2="266.3" stroke="#E4786E" stroke-width="1"/>
<path d="M507.64,246.66 L509.64,250.34 L505.64,250.34 Z" fill="#fff" stroke="#E4786E" stroke-width="1"/>
<line x1="507.642" y1="245.0" x2="507.642" y2="252.0" stroke="#E4786E" stroke-width="1"/>
<line x1="505.542" y1="245.0" x2="509.742" y2="245.0" stroke="#E4786E" stroke-width="1"/>
<line x1="505.542" y1="252.0" x2="509.742" y2="252.0" stroke="#E4786E" stroke-width="1"/>
<path d="M528.21,251.06 L530.21,254.74 L526.21,254.74 Z" fill="#fff" stroke="#E4786E" stroke-width="1"/>
<line x1="528.213" y1="249.70000000000002" x2="528.213" y2="256.1" stroke="#E4786E" stroke-width="1"/>
<line x1="526.1129999999999" y1="249.70000000000002" x2="530.313" y2="249.70000000000002" stroke="#E4786E" stroke-width="1"/>
<line x1="526.1129999999999" y1="256.1" x2="530.313" y2="256.1" stroke="#E4786E" stroke-width="1"/>
<path d="M548.78,252.66 L550.78,256.34 L546.78,256.34 Z" fill="#fff" stroke="#E4786E" stroke-width="1"/>
<line x1="548.784" y1="252.6" x2="548.784" y2="256.4" stroke="#E4786E" stroke-width="1"/>
<line x1="546.684" y1="252.6" x2="550.884" y2="252.6" stroke="#E4786E" stroke-width="1"/>
<line x1="546.684" y1="256.4" x2="550.884" y2="256.4" stroke="#E4786E" stroke-width="1"/>
<path d="M569.36,247.86 L571.36,251.54 L567.36,251.54 Z" fill="#fff" stroke="#E4786E" stroke-width="1"/>
<line x1="569.355" y1="248.7" x2="569.355" y2="250.7" stroke="#E4786E" stroke-width="1"/>
<line x1="567.255" y1="248.7" x2="571.455" y2="248.7" stroke="#E4786E" stroke-width="1"/>
<line x1="567.255" y1="250.7" x2="571.455" y2="250.7" stroke="#E4786E" stroke-width="1"/>
<path d="M589.93,267.56 L591.93,271.24 L587.93,271.24 Z" fill="#fff" stroke="#E4786E" stroke-width="1"/>
<line x1="589.926" y1="268.4" x2="589.926" y2="270.4" stroke="#E4786E" stroke-width="1"/>
<line x1="587.826" y1="268.4" x2="592.0260000000001" y2="268.4" stroke="#E4786E" stroke-width="1"/>
<line x1="587.826" y1="270.4" x2="592.0260000000001" y2="270.4" stroke="#E4786E" stroke-width="1"/>
<path d="M610.50,281.26 L612.50,284.94 L608.50,284.94 Z" fill="#fff" stroke="#E4786E" stroke-width="1"/>
<line x1="610.4970000000001" y1="281.20000000000005" x2="610.4970000000001" y2="285.0" stroke="#E4786E" stroke-width="1"/>
<line x1="608.397" y1="281.20000000000005" x2="612.5970000000001" y2="281.20000000000005" stroke="#E4786E" stroke-width="1"/>
<line x1="608.397" y1="285.0" x2="612.5970000000001" y2="285.0" stroke="#E4786E" stroke-width="1"/>
<line x1="604.9" y1="196.8" x2="623.5" y2="196.8" stroke="#E4786E" stroke-width="1"/>
<path d="M614.20,193.58 L617.70,200.02 L610.70,200.02 Z" fill="#fff" stroke="#E4786E" stroke-width="1"/>
<line x1="604.9" y1="208.5" x2="623.5" y2="208.5" stroke="#EBB986" stroke-width="1"/>
<rect x="611.1" y="205.4" width="6.2" height="6.2" fill="#fff" stroke="#EBB986" stroke-width="1"/>
<text x="626.1" y="198.3" font-size="6.5" text-anchor="start"  style="font-style:italic;stroke-width:0">PFLoos_1</text>
<text x="626.1" y="210.0" font-size="6.5" text-anchor="start"  style="font-style:italic;stroke-width:0">PFSWO1_1</text>
<text x="0" y="0" font-size="11.5" text-anchor="middle" transform="translate(431.6,249.4) rotate(-90)">Synergistic effect, %</text>
</svg>
</body></html>
